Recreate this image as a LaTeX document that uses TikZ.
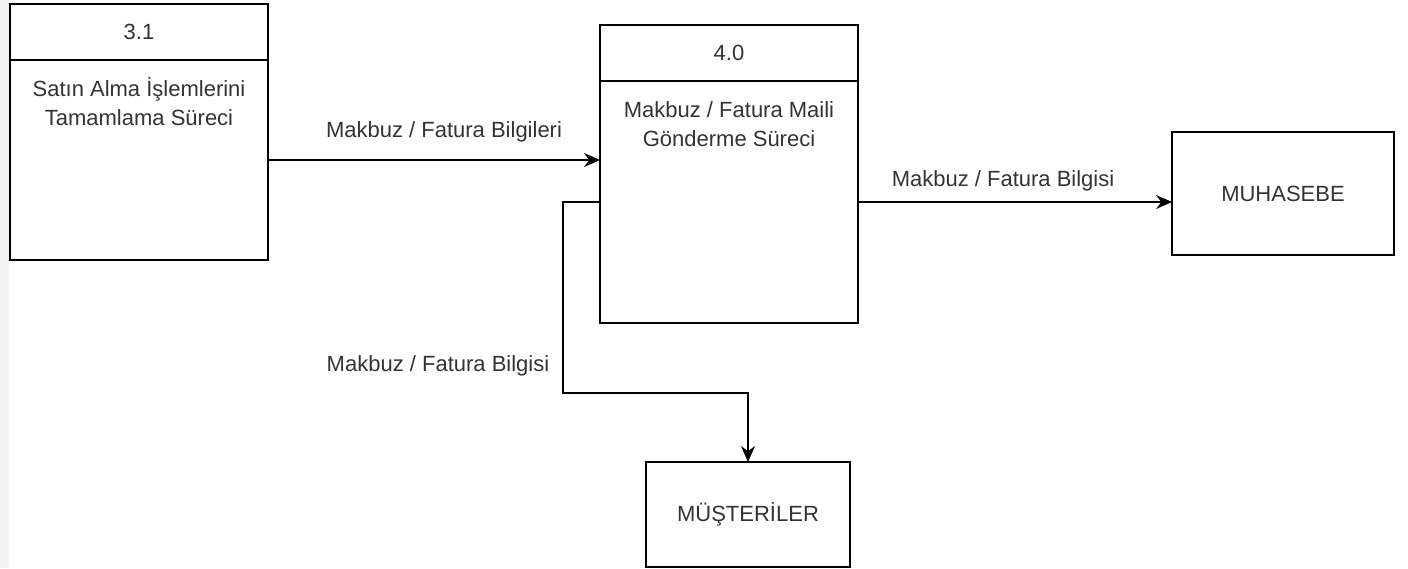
\documentclass[tikz,border=0pt]{standalone}
\usepackage{fontspec}
\setmainfont{Liberation Sans}
\usetikzlibrary{arrows.meta,positioning}
\definecolor{txtgray}{HTML}{333333}
\definecolor{leftbar}{HTML}{F2F2F2}

\begin{document}
\begin{tikzpicture}[x=0.75pt,y=-0.75pt,
  every node/.style={font=\fontsize{16.5}{21.5}\selectfont, text=txtgray},
  boxline/.style={draw=black, line width=1.5pt, outer sep=0pt, inner sep=0pt},
  prochead/.style={boxline, minimum width=193.5pt, minimum height=42pt},
  procbody/.style={boxline, minimum width=193.5pt},
  bodytxt/.style={anchor=north, align=center, yshift=-8.9pt},
  extbox/.style={boxline, fill=white},
  dfarrow/.style={draw=black, line width=1.5pt, -{Stealth[length=12pt,width=10.5pt,inset=4pt]}},
  flowlbl/.style={inner sep=0pt}]
\useasboundingbox (0,0) rectangle (1408,568);
\fill[leftbar] (0,0) rectangle (8.5,568);
% process 3.1
\node[prochead] (h31) at (139,32) {3.1};
\node[procbody, minimum height=150pt, below=0pt of h31,
  label={[bodytxt]north:{\strut Satın Alma İşlemlerini\\Tamamlama Süreci}}] (b31) {};
% process 4.0
\node[prochead] (h40) at (729,53) {4.0};
\node[procbody, minimum height=181.5pt, below=0pt of h40,
  label={[bodytxt]north:{\strut Makbuz / Fatura Maili\\Gönderme Süreci}}] (b40) {};
% external entities
\node[extbox, minimum width=166.5pt, minimum height=92.25pt] (muh) at (1283,193.5) {MUHASEBE};
\node[extbox, minimum width=153pt, minimum height=78.75pt] (mus) at (748,514.5) {MÜŞTERİLER};
% flows
\draw[dfarrow] (b31.east) -- (b40.west |- b31.east);
\node[flowlbl] (lbBilgileri) at (444,132) {Makbuz / Fatura Bilgileri};
\draw[dfarrow] (b40.east) -- (muh.west |- b40.east);
\node[flowlbl] (lbMuh) at (1003,181) {Makbuz / Fatura Bilgisi};
\coordinate (knee) at (563,393);
\draw[dfarrow] (b40.west) -| (knee) -| (mus.north);
\node[flowlbl] (lbMus) at (438,366) {Makbuz / Fatura Bilgisi};
\end{tikzpicture}
\end{document}
